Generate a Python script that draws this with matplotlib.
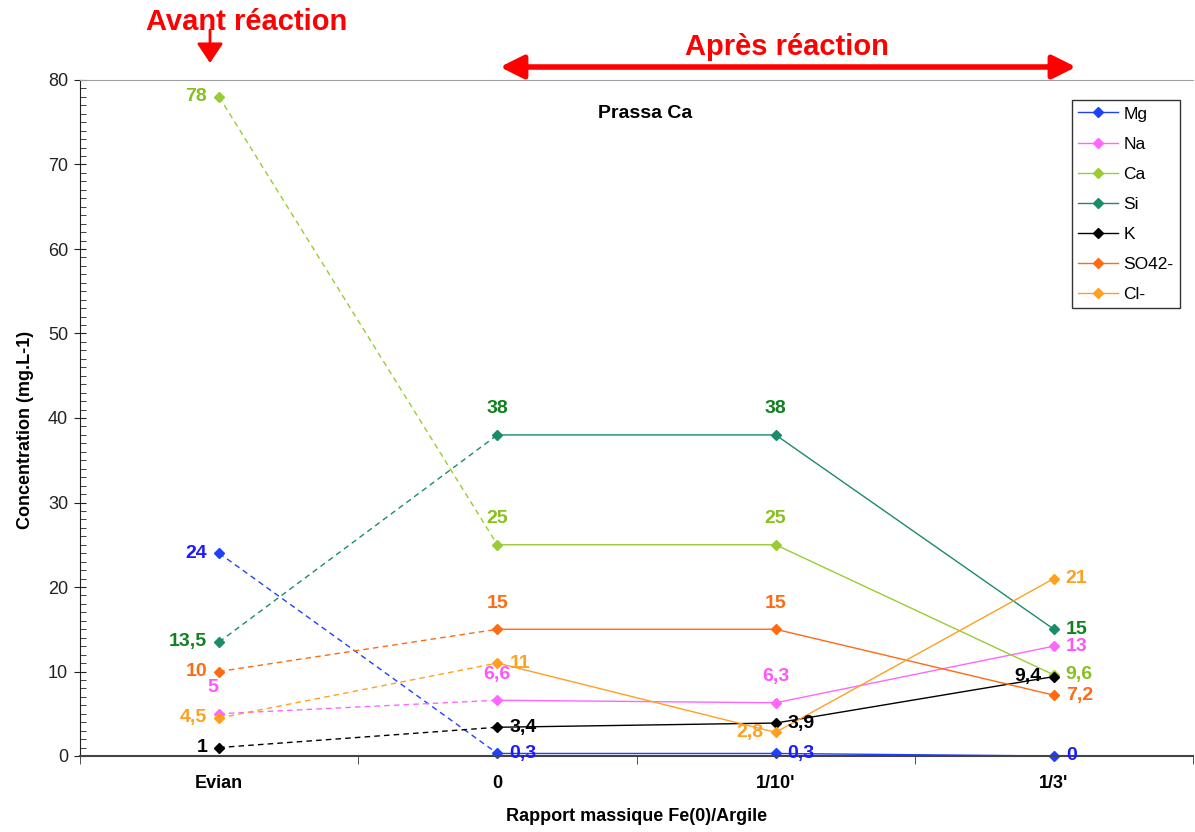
import numpy as np
import matplotlib.pyplot as plt

plt.rcParams['font.family'] = ['Liberation Sans', 'DejaVu Sans']

categories = ['Evian', '0', "1/10'", "1/3'"]

mg = [24, 0.3, 0.3, 0]
na = [5, 6.6, 6.3, 13]
ca = [78, 25, 25, 9.6]
si = [13.5, 38, 38, 15]
k = [1, 3.4, 3.9, 9.4]
so4 = [10, 15, 15, 7.2]
cl = [4.5, 11, 2.8, 21]

# name, values, line colour, label colour, label placement per point
series = [
    ('Mg', mg, '#2040ff', '#1a1aff', ['l', 'r', 'r', 'r']),
    ('Na', na, '#ff66ff', '#ff55ff', ['a5', 'a', 'a', 'r']),
    ('Ca', ca, '#99cc33', '#88c020', ['l', 'a', 'a', 'r']),
    ('Si', si, '#1a8c6a', '#108020', ['l', 'a', 'a', 'r']),
    ('K', k, '#000000', '#000000', ['l', 'r', 'r', 'l']),
    ('SO42-', so4, '#ff6a13', '#ff6a13', ['l', 'a', 'a', 'r']),
    ('Cl-', cl, '#ffa020', '#ffa020', ['l', 'r', 'l', 'r']),
]

fig = plt.figure(figsize=(11.95, 8.32), dpi=100)
ax = fig.add_axes([80 / 1195, 1 - 756 / 832, 1113 / 1195, 676 / 832])

x = np.arange(len(categories))
handles = []
for name, vals, lc, tc, places in series:
    ax.plot(x[:2], vals[:2], color=lc, lw=1, ls=(0, (4, 3)), clip_on=False)
    h, = ax.plot(x[1:], vals[1:], color=lc, lw=1, clip_on=False,
                 marker='D', ms=5, mfc=lc, mec=lc, label=name)
    ax.plot(x[:1], vals[:1], ls='none', marker='D', ms=5, color=lc, clip_on=False)
    handles.append(h)
    for xi, v, p in zip(x, vals, places):
        txt = f'{v:g}'.replace('.', ',')
        if p == 'l':
            off, ha, va = (-12, 0), 'right', 'center'
        elif p == 'r':
            off, ha, va = (12, 0), 'left', 'center'
        elif p == 'a5':
            off, ha, va = (-6, 26), 'center', 'center'
        else:
            off, ha, va = (0, 26), 'center', 'center'
        ax.annotate(txt, (xi, v), xytext=off, textcoords='offset pixels',
                    ha=ha, va=va, color=tc, fontsize=14, fontweight='bold')

ax.set_xlim(-0.5, 3.5)
ax.set_ylim(0, 80)
ax.set_xticks(x)
ax.set_xticklabels(categories, fontweight='bold', fontsize=13)
ax.set_xticks(np.arange(-0.5, 4, 1), minor=True)
ax.tick_params(axis='x', which='major', length=0, pad=14)
ax.tick_params(axis='x', which='minor', length=6, direction='out', color='#333333')
ax.set_yticks(np.arange(0, 81, 10))
ax.set_yticks(np.arange(0, 81, 1), minor=True)
ax.tick_params(axis='y', which='major', length=9, direction='inout', labelsize=13,
               color='#222222', labelcolor='#222222', pad=4)
ax.tick_params(axis='y', which='minor', length=4, direction='in', color='#222222')

ax.spines['right'].set_visible(False)
ax.spines['top'].set_color('#a0a0a0')
ax.spines['left'].set_color('#222222')
ax.spines['bottom'].set_color('#444444')
ax.spines['bottom'].set_linewidth(1.5)

ax.set_xlabel('Rapport massique Fe(0)/Argile', fontsize=13, fontweight='bold')
ax.xaxis.set_label_coords((637 - 80) / 1113, -(808 - 756) / 676)
ax.set_ylabel('Concentration (mg.L-1)', fontsize=13, fontweight='bold')
ax.yaxis.set_label_coords(-(80 - 34) / 1113, (756 - 430) / 676)

ax.text(0.5076, 0.951, 'Prassa Ca', transform=ax.transAxes, ha='center', va='center',
        fontsize=14, fontweight='bold')

leg = ax.legend(handles=handles, loc='upper right', bbox_to_anchor=(0.988, 0.970),
                fontsize=12.5, frameon=True, fancybox=False, edgecolor='black',
                handlelength=2.3, labelspacing=0.86, borderpad=0.35,
                handletextpad=0.3, borderaxespad=0)
leg.get_frame().set_linewidth(1)

# red annotations above the plot
fig.text(247 / 1195, 1 - 22 / 832, 'Avant réaction', color='red', fontsize=21,
         fontweight='bold', ha='center', va='center')
fig.text(787 / 1195, 1 - 47 / 832, 'Après réaction', color='red', fontsize=21,
         fontweight='bold', ha='center', va='center')
ax.annotate('', xy=(210 / 1195, 1 - 63 / 832), xytext=(210 / 1195, 1 - 30 / 832),
            xycoords='figure fraction', textcoords='figure fraction',
            arrowprops=dict(arrowstyle='-|>,head_length=0.6,head_width=0.4',
                            color='red', lw=2, shrinkA=0, shrinkB=0,
                            mutation_scale=20))
ax.annotate('', xy=(500 / 1195, 1 - 67 / 832), xytext=(1076 / 1195, 1 - 67 / 832),
            xycoords='figure fraction', textcoords='figure fraction',
            arrowprops=dict(arrowstyle='<|-|>,head_length=1.4,head_width=0.7',
                            color='red', lw=4, shrinkA=0, shrinkB=0))

fig.savefig('out.png', dpi=100)
